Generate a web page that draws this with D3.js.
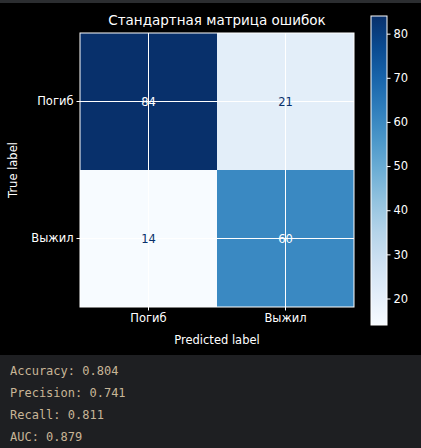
<!DOCTYPE html><html><head><meta charset="utf-8"><script src="https://cdn.jsdelivr.net/npm/d3@7"></script>
<style>body{margin:0;background:#000;width:421px;height:448px;overflow:hidden}</style></head><body><svg id="c" width="421" height="448"></svg><script>
const classes=["Погиб","Выжил"];
const matrix=[[84,21],[14,60]];
const cbTicks=[20,30,40,50,60,70,80];
const metricNames=["Accuracy","Precision","Recall","AUC"];
const metricValues=["0.804","0.741","0.811","0.879"];
const svg=d3.select("#c");
svg.append("rect").attr("width",421).attr("height",448).attr("fill","#000");
svg.append("rect").attr("width",421).attr("height",3).attr("fill","#2b2d30");
const vmin=14,vmax=84;
const x=d3.scaleBand().domain([0,1]).range([80,354]);
const y=d3.scaleBand().domain([0,1]).range([33,307]);
const color=v=>d3.interpolateBlues((v-vmin)/(vmax-vmin));
const g=svg.append("g");
matrix.forEach((row,i)=>row.forEach((v,j)=>{
 g.append("rect").attr("x",x(j)).attr("y",y(i)).attr("width",x.bandwidth()).attr("height",y.bandwidth()).attr("fill",color(v));
}));
// grid lines at tick positions
[0,1].forEach(k=>{
 g.append("line").attr("x1",x(k)+x.bandwidth()/2).attr("x2",x(k)+x.bandwidth()/2).attr("y1",33).attr("y2",307).attr("stroke","#fff").attr("stroke-width",1);
 g.append("line").attr("y1",y(k)+y.bandwidth()/2).attr("y2",y(k)+y.bandwidth()/2).attr("x1",80).attr("x2",354).attr("stroke","#fff").attr("stroke-width",1);
});
matrix.forEach((row,i)=>row.forEach((v,j)=>{
 g.append("text").attr("x",x(j)+x.bandwidth()/2).attr("y",y(i)+y.bandwidth()/2+4).attr("text-anchor","middle")
  .attr("font-family","DejaVu Sans").attr("font-size",11.5).attr("fill",(v-vmin)/(vmax-vmin)>0.5?"#fff":"#08306b").text(v);
}));
svg.append("rect").attr("x",80).attr("y",33).attr("width",274).attr("height",274).attr("fill","none").attr("stroke","#fff").attr("stroke-width",1);
const ff="DejaVu Sans";
const xa=svg.append("g").attr("transform","translate(0,307)").call(d3.axisBottom(x).tickFormat(d=>classes[d]).tickSize(3.5));
const ya=svg.append("g").attr("transform","translate(80,0)").call(d3.axisLeft(y).tickFormat(d=>classes[d]).tickSize(3.5));
[xa,ya].forEach(a=>{a.select(".domain").remove();a.selectAll("line").attr("stroke","#fff");a.selectAll("text").attr("fill","#fff").attr("font-family",ff).attr("font-size",11.5);});
svg.append("text").attr("x",217).attr("y",344).attr("text-anchor","middle").attr("fill","#fff").attr("font-family",ff).attr("font-size",11.5).text("Predicted label");
svg.append("text").attr("transform","translate(17,170) rotate(-90)").attr("text-anchor","middle").attr("fill","#fff").attr("font-family",ff).attr("font-size",11.5).text("True label");
svg.append("text").attr("x",217).attr("y",25).attr("text-anchor","middle").attr("fill","#fff").attr("font-family",ff).attr("font-size",13.5).text("Стандартная матрица ошибок");
// colorbar
const cy=d3.scaleLinear().domain([vmin,vmax]).range([325,16]);
const defs=svg.append("defs");
const lg=defs.append("linearGradient").attr("id","cb").attr("x1",0).attr("y1",1).attr("x2",0).attr("y2",0);
d3.range(0,1.001,0.1).forEach(t=>lg.append("stop").attr("offset",t).attr("stop-color",d3.interpolateBlues(t)));
svg.append("rect").attr("x",371).attr("y",16).attr("width",16).attr("height",309).attr("fill","url(#cb)").attr("stroke","#fff").attr("stroke-width",1);
const ca=svg.append("g").attr("transform","translate(387,0)").call(d3.axisRight(cy).tickValues(cbTicks).tickSize(3.5));
ca.select(".domain").remove();ca.selectAll("line").attr("stroke","#fff");ca.selectAll("text").attr("fill","#fff").attr("font-family",ff).attr("font-size",11.5);
// metrics panel
svg.append("rect").attr("x",0).attr("y",355).attr("width",421).attr("height",93).attr("fill","#1e1f22");
metricNames.forEach((n,i)=>svg.append("text").attr("x",10).attr("y",375+i*22).attr("fill","#c8b597").attr("font-family","DejaVu Sans Mono").attr("font-size",12).text(n+": "+metricValues[i]));
</script></body></html>
